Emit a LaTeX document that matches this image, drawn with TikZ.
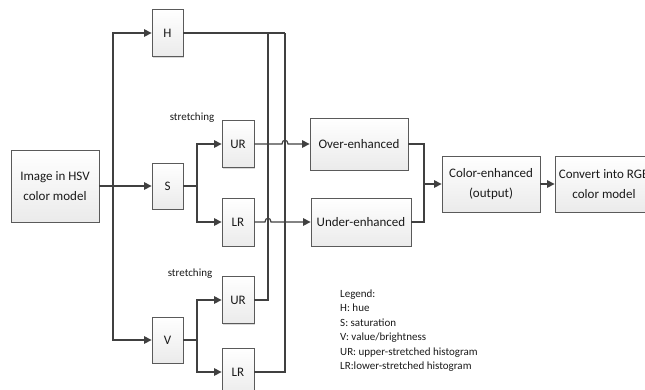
\documentclass[tikz,border=0pt]{standalone}
\usepackage{fontspec}
\setmainfont{Carlito}
\usetikzlibrary{arrows.meta,shadows,calc}
\definecolor{linec}{HTML}{404040}
\definecolor{boxc}{HTML}{5A5A5A}
\definecolor{txtc}{HTML}{1A1A1A}
\begin{document}
\begin{tikzpicture}[x=1pt,y=-1pt,
  blk/.style n args={2}{draw=boxc, line width=0.8pt, top color=white, bottom color=gray!16,
    drop shadow={shadow xshift=1.3pt, shadow yshift=-1.3pt, opacity=0.3, fill=gray},
    minimum width=#1pt, minimum height=#2pt, inner sep=0pt, align=center,
    text=txtc, font=\fontsize{13}{20}\selectfont},
  ln/.style={draw=linec, line width=1.2pt},
  arr/.style={ln, -{Triangle[length=7.5pt,width=7.5pt]}},
  lbl/.style={text=txtc, font=\fontsize{11}{13}\selectfont, inner sep=0pt, anchor=base west},
]
\useasboundingbox (0,0) rectangle (645,389);
\clip (0,0) rectangle (645,389);

% blocks
\node[blk={88}{72}] (img) at (55,186) {Image in HSV\\color model};
\node[blk={31}{47}] (H) at (167.5,33) {H};
\node[blk={31}{46}] (S) at (167.5,186) {S};
\node[blk={31}{46}] (V) at (167.5,340) {V};
\node[blk={32}{47}] (UR1) at (238,144) {UR};
\node[blk={32}{48}] (LR1) at (238,222) {LR};
\node[blk={32}{47}] (UR2) at (238,300) {UR};
\node[blk={32}{48}] (LR2) at (238,372) {LR};
\node[blk={98}{52}] (over) at (359,144) {Over-enhanced};
\node[blk={100}{48}] (under) at (361,222) {Under-enhanced};
\node[blk={98}{56}] (color) at (491,184) {Color-enhanced\\(output)};
\node[blk={98}{56}] (conv) at (604,184) {Convert into RGB\\color model};

% labels
\node[lbl, anchor=base] (st1) at (192,120.5) {stretching};
\node[lbl, anchor=base] (st2) at (190,276.5) {stretching};

\node[lbl] (lg1) at (340,297.5) {Legend:};
\node[lbl] (lg2) at (340,311.9) {H: hue};
\node[lbl] (lg3) at (340,326.3) {S: saturation};
\node[lbl] (lg4) at (340,340.7) {V: value/brightness};
\node[lbl] (lg5) at (340,355.1) {UR: upper-stretched histogram};
\node[lbl] (lg6) at (340,369.5) {LR:lower-stretched histogram};

% junction coordinates
\coordinate (j1) at (113,186);
\coordinate (j2) at (197,186);
\coordinate (j3) at (197,340);
\coordinate (h1) at (268,33);
\coordinate (h2) at (285,33);
\coordinate (m) at (424,184);

% connectors
\draw[arr] (img) -- (S);
\draw[arr] (j1) |- (H);
\draw[arr] (j1) |- (V);
\draw[ln] (S) -- (j2);
\draw[arr] (j2) |- (UR1);
\draw[arr] (j2) |- (LR1);
\draw[ln] (V) -- (j3);
\draw[arr] (j3) |- (UR2);
\draw[arr] (j3) |- (LR2);
\draw[ln] (H) -- (h2);
\draw[ln] (h1) |- (UR2);
\draw[ln] (h2) |- (LR2);

\draw[arr] (UR1.east) -- ($(UR1.east -| h2)+(-3,0)$)
  .. controls ($(UR1.east -| h2)+(-3,-5)$) and ($(UR1.east -| h2)+(3,-5)$) .. ($(UR1.east -| h2)+(3,0)$)
  -- (over.west);
\draw[arr] (LR1.east) -- ($(LR1.east -| h1)+(-3,0)$)
  .. controls ($(LR1.east -| h1)+(-3,-5)$) and ($(LR1.east -| h1)+(3,-5)$) .. ($(LR1.east -| h1)+(3,0)$)
  -- (under.west);

\draw[ln] (over.east) -| (m);
\draw[ln] (under.east) -| (m);
\draw[arr] (m) -- (color);
\draw[arr] (color) -- (conv);
\end{tikzpicture}
\end{document}
